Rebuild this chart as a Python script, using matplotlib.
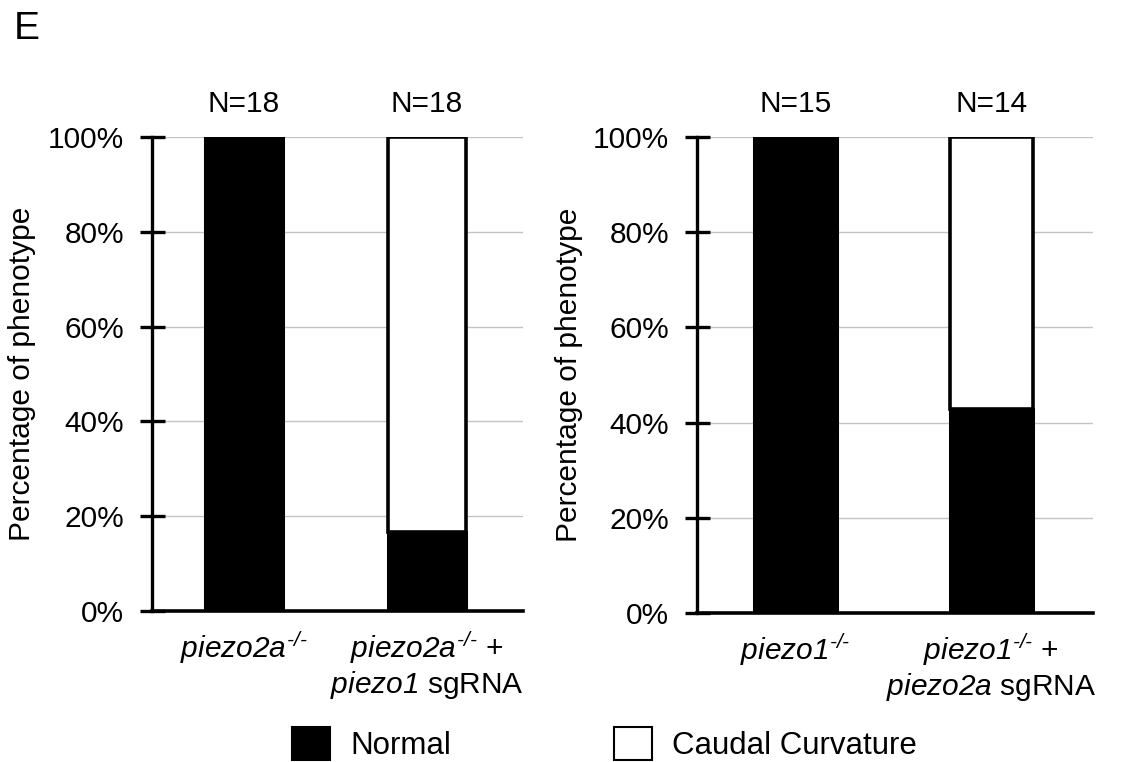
import matplotlib
matplotlib.use("Agg")
import matplotlib.pyplot as plt
from matplotlib.patches import Patch

plt.rcParams['font.family'] = ['Liberation Sans', 'DejaVu Sans']
plt.rcParams['mathtext.fontset'] = 'custom'
plt.rcParams['mathtext.rm'] = 'Liberation Sans:italic'
plt.rcParams['mathtext.it'] = 'Liberation Sans:italic'
plt.rcParams['mathtext.sf'] = 'Liberation Sans:italic'

# ---- data ----
left_labels = [r"$piezo2a^{\text{-/-}}$",
               r"$piezo2a^{\text{-/-}}$ +" + "\n" + r"$piezo1$ sgRNA"]
left_normal = [100.0, 16.7]
left_curv = [0.0, 83.3]
left_n = ["N=18", "N=18"]

right_labels = [r"$piezo1^{\text{-/-}}$",
                r"$piezo1^{\text{-/-}}$ +" + "\n" + r"$piezo2a$ sgRNA"]
right_normal = [100.0, 42.9]
right_curv = [0.0, 57.1]
right_n = ["N=15", "N=14"]

yticks = [0, 20, 40, 60, 80, 100]
ytick_labels = ["0%", "20%", "40%", "60%", "80%", "100%"]
legend_labels = ["Normal", "Caudal Curvature"]

FS = 21.5
W, H = 1124, 762
fig = plt.figure(figsize=(W / 100, H / 100), dpi=100)

def make_ax(rect, labels, normal, curv, ns, xlim, width):
    ax = fig.add_axes(rect)
    x = list(range(len(labels)))
    ax.set_axisbelow(True)
    ax.yaxis.grid(True, color='#c4c4c4', lw=1.0)
    ax.bar(x, normal, width=width, color='black', edgecolor='black', lw=2.2, zorder=3)
    ax.bar(x, curv, bottom=normal, width=width, color='white', edgecolor='black', lw=2.6, zorder=3)
    ax.set_xlim(*xlim)
    ax.set_ylim(0, 100)
    ax.set_yticks(yticks)
    ax.set_yticklabels(ytick_labels, fontsize=FS)
    ax.set_xticks(x)
    ax.set_xticklabels(labels, fontsize=FS, linespacing=1.15)
    ax.tick_params(axis='x', length=0, pad=13)
    ax.tick_params(axis='y', direction='inout', length=18, width=2.4, pad=11)
    for s in ['top', 'right']:
        ax.spines[s].set_visible(False)
    ax.spines['left'].set_linewidth(2.4)
    ax.spines['bottom'].set_linewidth(2.6)
    ax.set_ylabel("Percentage of phenotype", fontsize=FS)
    for xi, t in zip(x, ns):
        ax.text(xi, 107, t, ha='center', va='center', fontsize=FS, clip_on=False)
    return ax

ax1 = make_ax([152 / W, 1 - 611 / H, 371 / W, (611 - 137) / H],
              left_labels, left_normal, left_curv, left_n, (-0.503, 1.525), 0.426)
ax2 = make_ax([697 / W, 1 - 613 / H, 396 / W, (613 - 137) / H],
              right_labels, right_normal, right_curv, right_n, (-0.504, 1.52), 0.425)
ax1.yaxis.set_label_coords(-0.313, 0.5)
ax2.yaxis.set_label_coords(-0.288, 0.5)

fig.text(14 / W, 1 - 29 / H, "E", fontsize=28, va='center', ha='left')

handles = [Patch(facecolor='black', edgecolor='black', lw=1.5),
           Patch(facecolor='white', edgecolor='black', lw=1.5)]
fig.legend(handles, legend_labels, loc='center', bbox_to_anchor=(0.538, 1 - 744 / H),
           ncol=2, frameon=False, fontsize=22.5, handlelength=1.22, handleheight=1.22,
           columnspacing=5.2, handletextpad=0.65, borderpad=0, borderaxespad=0)

fig.savefig("out.png", dpi=100)
